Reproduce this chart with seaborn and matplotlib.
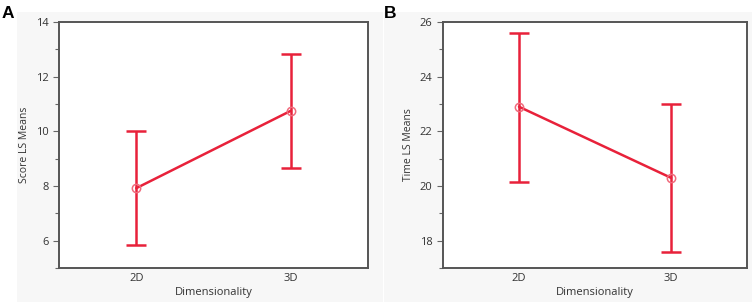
import numpy as np
import pandas as pd
import seaborn as sns
import matplotlib.pyplot as plt
from matplotlib.patches import Rectangle
from matplotlib.ticker import MultipleLocator

# 데이터
dims = ["2D", "3D"]
score_mean = [7.92, 10.75]
score_lower = [5.83, 8.65]
score_upper = [10.0, 12.83]
time_mean = [22.90, 20.30]
time_lower = [20.15, 17.58]
time_upper = [25.61, 22.99]

red = "#e8213a"
pink = "#f06a7c"

sns.set_theme(style="white")
plt.rcParams['font.family'] = ['Open Sans', 'DejaVu Sans']

fig = plt.figure(figsize=(7.54, 3.05), dpi=100)
fig.patch.set_facecolor("white")

# 패널 배경
for x0, w in [(17 / 754, 366 / 754), (384 / 754, 368 / 754)]:
    fig.add_artist(Rectangle((x0, 3 / 305), w, 290 / 305, transform=fig.transFigure,
                             facecolor="#f7f7f7", edgecolor="none", zorder=0))

ax_a = fig.add_axes([59 / 754, 37 / 305, 309 / 754, 246 / 305])
ax_b = fig.add_axes([443 / 754, 37 / 305, 304 / 754, 246 / 305])


def draw_panel(ax, mean, lower, upper, ylabel, ylim, letter, letter_x):
    df = pd.DataFrame({"Dimensionality": dims, "mean": mean})
    x = np.arange(len(dims))
    yerr = [np.array(mean) - np.array(lower), np.array(upper) - np.array(mean)]
    ax.errorbar(x, mean, yerr=yerr, fmt="none", ecolor=red, elinewidth=1.8,
                capsize=7, capthick=1.8, zorder=2)
    sns.lineplot(data=df, x="Dimensionality", y="mean", ax=ax, color=red,
                 linewidth=1.8, marker="o", markersize=6, markerfacecolor="none",
                 markeredgecolor=pink, markeredgewidth=1.1, zorder=3)
    ax.set_xlim(-0.5, 1.5)
    ax.set_ylim(*ylim)
    ax.yaxis.set_major_locator(MultipleLocator(2))
    ax.yaxis.set_minor_locator(MultipleLocator(1))
    ax.set_xlabel("Dimensionality", fontsize=8, color="#333333", labelpad=2)
    ax.set_ylabel(ylabel, fontsize=7.5, color="#333333", labelpad=4)
    ax.tick_params(axis="both", which="major", labelsize=8, length=4, width=0.8,
                   colors="#666666", labelcolor="#333333", bottom=True, left=True)
    ax.tick_params(axis="y", which="minor", length=3, width=0.8, colors="#666666", left=True)
    ax.tick_params(axis="x", which="major", length=0)
    for s in ax.spines.values():
        s.set_color("#555555")
        s.set_linewidth(1.4)
    ax.set_facecolor("white")
    fig.text(letter_x, 1 - 6 / 305, letter, fontsize=12.5, fontweight="bold",
             family="Liberation Sans", ha="left", va="top", color="black")


draw_panel(ax_a, score_mean, score_lower, score_upper, "Score LS Means", (5, 14), "A", 2 / 754)
draw_panel(ax_b, time_mean, time_lower, time_upper, "Time LS Means", (17, 26), "B", 384 / 754)

fig.savefig("out.png", dpi=100)
